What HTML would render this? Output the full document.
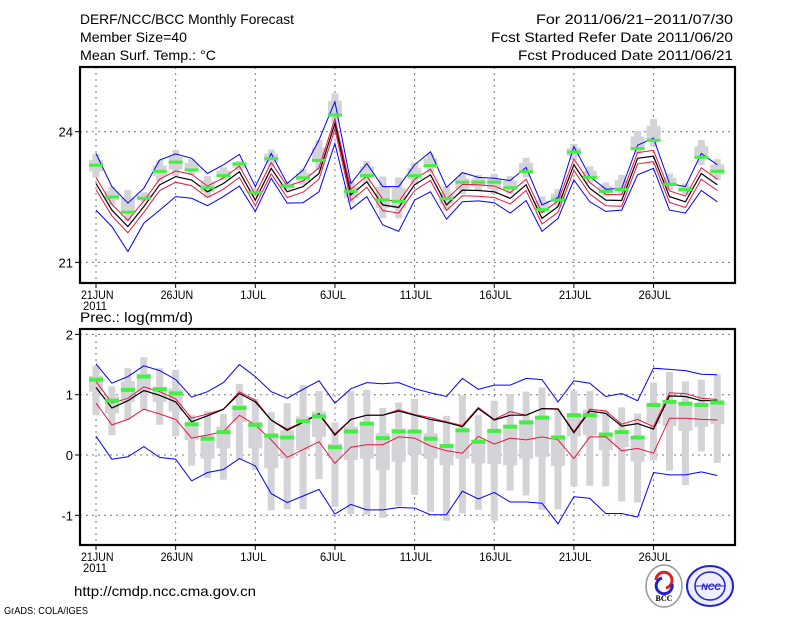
<!DOCTYPE html>
<html><head><meta charset="utf-8"><style>
html,body{margin:0;padding:0;background:#fff}
svg{display:block;font-family:"Liberation Sans",sans-serif}
</style></head><body>
<svg id="chart" width="800" height="618" viewBox="0 0 800 618" xmlns="http://www.w3.org/2000/svg">
<rect x="0" y="0" width="800" height="618" fill="#fff"/>
<g font-size="14" fill="#000">
<text x="80" y="24" textLength="214" lengthAdjust="spacingAndGlyphs">DERF/NCC/BCC Monthly Forecast</text>
<text x="80" y="42" textLength="107" lengthAdjust="spacingAndGlyphs">Member Size=40</text>
<text x="80" y="60" textLength="136" lengthAdjust="spacingAndGlyphs">Mean Surf. Temp.: °C</text>
</g>
<g font-size="14" fill="#000" text-anchor="end">
<text x="733" y="24" textLength="197" lengthAdjust="spacingAndGlyphs">For 2011/06/21−2011/07/30</text>
<text x="733" y="42" textLength="242" lengthAdjust="spacingAndGlyphs">Fcst Started Refer Date 2011/06/20</text>
<text x="733" y="60" textLength="215" lengthAdjust="spacingAndGlyphs">Fcst Produced Date 2011/06/21</text>
</g>
<text x="80" y="322" font-size="14" textLength="113" lengthAdjust="spacingAndGlyphs">Prec.: log(mm/d)</text>
<text x="74" y="596" font-size="14" textLength="182" lengthAdjust="spacingAndGlyphs">http://cmdp.ncc.cma.gov.cn</text>
<text x="4" y="614" font-size="10" textLength="84" lengthAdjust="spacingAndGlyphs">GrADS: COLA/IGES</text>
<g>
<ellipse cx="664" cy="586" rx="18" ry="21" fill="#fff" stroke="#999" stroke-width="1.5"/>
<path d="M656 580 a8 8 0 1 1 10 8" fill="none" stroke="#d22" stroke-width="3"/>
<path d="M672 584 a8 8 0 1 1 -10 -6" fill="none" stroke="#22c" stroke-width="3"/>
<text x="664" y="601" font-size="8" text-anchor="middle" font-family="Liberation Serif,serif" font-weight="bold">BCC</text>
</g>
<g>
<ellipse cx="710" cy="586" rx="23" ry="20" fill="#eef" stroke="#22c" stroke-width="2"/>
<ellipse cx="710" cy="586" rx="15" ry="14" fill="none" stroke="#22c" stroke-width="1.5"/>
<line x1="695" y1="586" x2="725" y2="586" stroke="#22c"/>
<text x="711" y="590" font-size="9" text-anchor="middle" fill="#22c" font-weight="bold" font-style="italic">NCC</text>
</g>
<g id="top"></g>
<g id="bot"></g>
</svg>
<script>
const dateLabels=["21JUN","26JUN","1JUL","6JUL","11JUL","16JUL","21JUL","26JUL"];
const tTicks=[21,24];
const pTicks=[-1,0,1,2];
// temperature
const tMean=[22.81,22.20,21.82,22.28,22.78,22.97,22.89,22.62,22.81,23.08,22.43,23.16,22.62,22.74,23.04,24.19,22.55,22.85,22.32,22.26,22.78,23.01,22.32,22.66,22.65,22.62,22.47,22.78,22.01,22.28,23.24,22.70,22.43,22.42,23.39,23.44,22.51,22.39,23.04,22.78];
const tRedHi=[22.95,22.33,21.96,22.41,22.91,23.10,23.02,22.75,22.94,23.21,22.56,23.29,22.75,22.87,23.17,24.30,22.68,22.98,22.45,22.39,22.91,23.14,22.45,22.79,22.78,22.75,22.60,22.91,22.14,22.41,23.37,22.83,22.56,22.55,23.52,23.57,22.64,22.52,23.17,22.91];
const tRedLo=[22.67,22.07,21.68,22.15,22.65,22.84,22.76,22.49,22.68,22.95,22.30,23.03,22.49,22.61,22.91,24.06,22.42,22.72,22.19,22.13,22.65,22.88,22.19,22.53,22.52,22.49,22.34,22.65,21.88,22.15,23.11,22.57,22.30,22.29,23.26,23.31,22.38,22.26,22.91,22.65];
const tBlueHi=[23.50,22.74,22.36,22.70,23.35,23.49,23.39,23.04,23.24,23.48,22.74,23.50,22.81,23.12,23.81,24.69,22.81,23.27,22.74,22.74,23.24,23.54,22.72,23.06,22.95,22.93,22.88,23.18,22.32,22.49,23.66,22.97,22.68,22.70,23.69,23.85,22.81,22.74,23.50,23.24];
const tBlueLo=[22.20,21.82,21.25,21.90,22.20,22.51,22.47,22.30,22.51,22.75,22.17,22.93,22.36,22.37,22.62,23.73,22.22,22.51,21.86,21.71,22.43,22.62,21.99,22.39,22.41,22.37,22.13,22.42,21.71,22.01,22.89,22.39,22.17,22.20,23.01,23.16,22.20,22.13,22.65,22.39];
const tObs=[23.22,22.49,22.14,22.46,23.08,23.29,23.11,22.70,22.98,23.25,22.59,23.37,22.74,22.93,23.33,24.37,22.62,22.98,22.42,22.39,22.98,23.21,22.45,22.83,22.83,22.83,22.70,23.07,22.20,22.42,23.52,22.94,22.62,22.66,23.60,23.79,22.78,22.66,23.40,23.08];
const tGreyHi=[23.49,22.74,22.66,22.61,23.35,23.58,23.37,22.98,23.18,23.33,22.70,23.59,22.85,23.14,23.81,24.88,22.85,23.33,22.97,22.95,23.29,23.50,22.74,23.04,23.01,23.03,22.98,23.40,22.51,22.68,23.72,23.20,22.83,23.01,24.02,24.29,23.04,22.81,23.81,23.37];
const tGreyLo=[22.95,22.32,21.94,22.39,22.85,22.98,23.01,22.49,22.89,23.12,22.51,23.20,22.66,22.78,23.12,24.19,22.36,22.81,22.01,22.01,22.78,23.06,22.20,22.57,22.65,22.57,22.57,22.95,22.13,22.28,23.35,22.81,22.51,22.55,23.49,23.66,22.66,22.55,23.24,22.89];
// precipitation
const pMean=[1.12,0.78,0.90,1.07,0.99,0.88,0.55,0.65,0.76,1.02,0.88,0.58,0.41,0.54,0.68,0.33,0.59,0.66,0.66,0.73,0.66,0.59,0.54,0.47,0.77,0.58,0.66,0.66,0.77,0.76,0.37,0.73,0.69,0.48,0.52,0.43,0.98,0.97,0.90,0.90];
const pRedHi=[1.22,0.86,0.94,1.13,1.05,0.93,0.61,0.68,0.76,1.05,0.91,0.58,0.43,0.55,0.69,0.35,0.59,0.66,0.66,0.75,0.67,0.62,0.55,0.49,0.79,0.59,0.72,0.66,0.77,0.77,0.39,0.76,0.73,0.51,0.59,0.47,1.03,1.02,0.94,0.92];
const pRedLo=[0.86,0.50,0.59,0.76,0.68,0.59,0.28,0.33,0.39,0.66,0.50,0.25,-0.04,0.09,0.22,-0.14,0.13,0.17,0.17,0.30,0.28,0.15,0.07,0.03,0.31,0.18,0.28,0.25,0.30,0.25,-0.06,0.30,0.30,0.07,0.11,0.03,0.61,0.61,0.59,0.58];
const pBlueHi=[1.51,1.19,1.30,1.48,1.40,1.25,0.96,1.05,1.20,1.50,1.30,1.05,0.94,1.09,1.23,0.86,1.10,1.20,1.18,1.20,1.10,1.03,0.97,1.27,1.09,1.16,1.16,1.27,1.25,0.88,1.23,1.19,0.97,1.02,0.90,1.44,1.42,1.40,1.34,1.33];
const pBlueLo=[0.31,-0.07,-0.03,0.14,-0.04,-0.07,-0.43,-0.29,-0.24,-0.06,-0.18,-0.64,-0.79,-0.68,-0.57,-0.98,-0.82,-0.91,-0.91,-0.87,-0.88,-0.99,-0.99,-0.60,-0.73,-0.62,-0.78,-0.78,-0.80,-1.14,-0.69,-0.72,-0.97,-0.97,-1.03,-0.29,-0.33,-0.33,-0.28,-0.34];
const pObs=[1.25,0.90,1.08,1.30,1.09,1.02,0.51,0.27,0.38,0.78,0.50,0.32,0.29,0.56,0.64,0.13,0.39,0.52,0.28,0.39,0.39,0.27,0.15,0.41,0.22,0.40,0.47,0.54,0.62,0.29,0.66,0.66,0.34,0.38,0.29,0.83,0.88,0.85,0.83,0.87];
const pWhiskHi=[1.48,1.14,1.44,1.62,1.44,1.41,0.66,0.73,0.68,1.18,0.93,0.71,0.86,1.16,1.06,0.54,1.06,1.08,0.78,0.87,0.93,0.60,0.65,0.99,0.66,0.90,1.01,1.05,1.12,0.75,1.06,1.06,0.73,0.79,0.69,1.20,1.38,1.22,1.25,1.33];
const pWhiskLo=[0.66,0.33,0.58,0.75,0.50,0.31,-0.18,-0.38,-0.41,-0.07,-0.25,-0.92,-0.90,-0.90,-0.40,-0.86,-0.98,-0.99,-1.04,-0.85,-0.66,-0.94,-1.09,-0.97,-0.91,-1.09,-0.59,-0.67,-0.91,-0.90,-0.52,-0.51,-0.52,-0.77,-0.79,-0.09,-0.26,-0.50,0.06,-0.13];
const pBoxHi=[1.31,0.97,1.22,1.35,1.13,1.10,0.52,0.33,0.47,0.83,0.55,0.36,0.41,0.64,0.72,0.19,0.47,0.55,0.36,0.44,0.41,0.36,0.17,0.41,0.25,0.43,0.49,0.58,0.64,0.33,0.69,0.75,0.34,0.40,0.30,0.86,0.88,0.86,0.83,0.86];
const pBoxLo=[1.05,0.69,0.88,1.05,0.88,0.72,0.25,-0.06,0.11,0.55,0.11,-0.22,-0.06,0.08,0.30,-0.06,-0.08,-0.06,-0.25,-0.11,0.00,-0.06,-0.17,-0.06,-0.14,-0.15,-0.17,-0.06,-0.03,-0.18,0.31,0.33,0.08,0.13,-0.11,0.52,0.48,0.40,0.47,0.51];

const NS="http://www.w3.org/2000/svg";
const X0=80,X1=735;
const xDay=i=>96+i*15.93;
function mk(p,tag,at){const e=document.createElementNS(NS,tag);for(const k in at)e.setAttribute(k,at[k]);p.appendChild(e);return e;}
function panel(g,top,bot,yScale,ticks,showDec,d){
  ticks.forEach(t=>{const y=yScale(t);
    const l=mk(g,'line',{x1:X0,x2:X1,y1:y,y2:y,stroke:'#777','stroke-dasharray':'2,4'});
    
    
    const tk=mk(g,'line',{x1:X0-5,x2:X0,y1:y,y2:y,stroke:'#000'});
    
    
    const tx=mk(g,'text',{x:X0-7,y:y+5,'font-size':13,'text-anchor':'end'});tx.textContent=t;
    
    
  });
  dateLabels.forEach((s,k)=>{const x=xDay(k*5);
    const l=mk(g,'line',{x1:x,x2:x,y1:top,y2:bot,stroke:'#777','stroke-dasharray':'2,4'});
    
    
    const tk=mk(g,'line',{x1:x,x2:x,y1:bot,y2:bot+5,stroke:'#000'});
    
    
    const tx=mk(g,'text',{x:x-15,y:bot+16,'font-size':12,textLength:s.length*6.5,lengthAdjust:'spacingAndGlyphs'});tx.textContent=s;
    
    
  });
  const yr=mk(g,'text',{x:83,y:bot+27,'font-size':12,textLength:24,lengthAdjust:'spacingAndGlyphs'});yr.textContent='2011';
  
  
  d.wHi.forEach((v,i)=>{const x=xDay(i);
    const w=mk(g,'rect',{x:x-3.5,width:7,y:yScale(v),height:Math.max(1,yScale(d.wLo[i])-yScale(v)),fill:'#d3d3d8'});
    
    
    const bh=d.bHi?d.bHi[i]:v-(v-d.wLo[i])*0.25, bl=d.bLo?d.bLo[i]:d.wLo[i]+(v-d.wLo[i])*0.25;
    const b=mk(g,'rect',{x:x-7,width:14,y:yScale(bh),height:Math.max(1,yScale(bl)-yScale(bh)),fill:'#d3d3d8'});
    
    
  });
  const line=(arr,c,w,name)=>{const p=mk(g,'polyline',{points:arr.map((v,i)=>xDay(i).toFixed(1)+','+yScale(v).toFixed(1)).join(' '),fill:'none',stroke:c,'stroke-width':w});
    
    };
  line(d.bHi2,'#0000ff',1,'blue-upper-line');
  line(d.bLo2,'#0000ff',1,'blue-lower-line');
  line(d.rHi,'#e8163c',1,'red-upper-line');
  line(d.rLo,'#e8163c',1,'red-lower-line');
  line(d.m,'#000',1.2,'ensemble-mean-line');
  d.obs.forEach((v,i)=>{const x=xDay(i);
    const r=mk(g,'rect',{x:x-7,width:14,y:yScale(v)-2,height:d.gh,fill:'#44ee44'});
    
    });
  const f=mk(g,'rect',{x:X0,y:top,width:X1-X0,height:bot-top,fill:'none',stroke:'#000','stroke-width':2.2});
  
  
}
const tY=v=>131.7-(v-24)*43.55;
const pY=v=>455-v*60.3;
panel(document.getElementById('top'),67,283,tY,tTicks,true,{m:tMean,rHi:tRedHi,rLo:tRedLo,bHi2:tBlueHi,bLo2:tBlueLo,obs:tObs,wHi:tGreyHi,wLo:tGreyLo,gh:3});
panel(document.getElementById('bot'),329,545,pY,pTicks,true,{m:pMean,rHi:pRedHi,rLo:pRedLo,bHi2:pBlueHi,bLo2:pBlueLo,obs:pObs,wHi:pWhiskHi,wLo:pWhiskLo,bHi:pBoxHi,bLo:pBoxLo,gh:4});
</script>
</body></html>
